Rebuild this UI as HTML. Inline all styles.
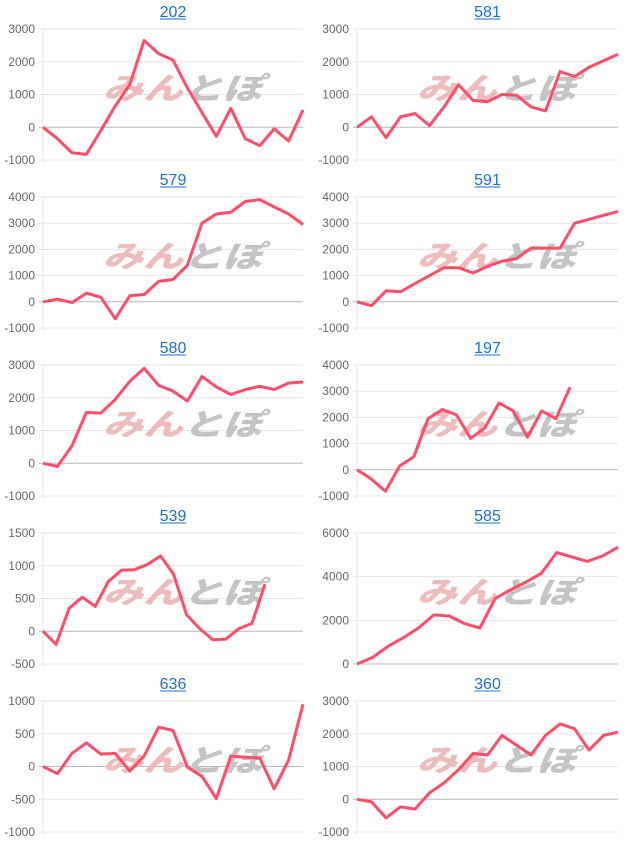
<!DOCTYPE html>
<html><head><meta charset="utf-8">
<style>
body{margin:0;background:#fff;width:630px;height:840px;overflow:hidden;font-family:"Liberation Sans","Noto Sans CJK JP",sans-serif}
</style></head><body>
<svg id="s" width="630" height="840" xmlns="http://www.w3.org/2000/svg"></svg>
<script>
const P=[
{t:"202",c:0,r:0,max:3000,min:-1000,st:1000,end:303,d:[0,-350,-780,-830,-100,650,1300,2650,2250,2050,1200,450,-280,580,-350,-560,-50,-420,530]},
{t:"581",c:1,r:0,max:3000,min:-1000,st:1000,end:618,d:[0,320,-320,320,420,50,620,1300,820,780,1000,980,620,500,1700,1550,1830,2030,2230]},
{t:"579",c:0,r:1,max:4000,min:-1000,st:1000,end:303,d:[0,100,-30,330,170,-650,230,280,780,850,1400,3000,3350,3420,3830,3900,3620,3350,2950]},
{t:"591",c:1,r:1,max:4000,min:-1000,st:1000,end:618,d:[0,-150,420,380,700,1000,1300,1300,1100,1350,1550,1650,2050,2050,2050,3000,3150,3300,3450]},
{t:"580",c:0,r:2,max:3000,min:-1000,st:1000,end:303,d:[0,-100,530,1550,1530,1950,2500,2900,2380,2200,1900,2650,2330,2100,2250,2350,2250,2450,2480]},
{t:"197",c:1,r:2,max:4000,min:-1000,st:1000,end:570,d:[0,-350,-820,150,500,1950,2300,2100,1200,1600,2550,2250,1250,2250,1950,3150]},
{t:"539",c:0,r:3,max:1500,min:-500,st:500,end:265,d:[0,-200,350,520,380,760,930,940,1020,1150,870,250,40,-130,-120,40,120,720]},
{t:"585",c:1,r:3,max:6000,min:0,st:2000,end:618,d:[0,300,800,1200,1650,2250,2200,1850,1650,3000,3400,3750,4150,5100,4900,4700,4950,5350]},
{t:"636",c:0,r:4,max:1000,min:-1000,st:500,end:303,d:[0,-110,200,360,190,200,-70,160,600,550,-10,-150,-490,160,140,130,-340,100,950]},
{t:"360",c:1,r:4,max:3000,min:-1000,st:1000,end:618,d:[0,-80,-570,-230,-300,200,500,900,1400,1350,1950,1650,1350,1950,2300,2150,1500,1950,2050]}
];
let h="";
for(const p of P){
 const x0=p.c?357:43,x1=p.c?618:303,top=29+168*p.r,bot=top+131;
 const Y=v=>top+(p.max-v)/(p.max-p.min)*(bot-top);
 const cx=(x0+x1)/2;
 h+=`<text x="${cx}" y="${top-12}" font-size="16" fill="#1a6fd1" text-anchor="middle">${p.t}</text>`;
 h+=`<line x1="${cx-13}" y1="${top-10}" x2="${cx+13}" y2="${top-10}" stroke="#1a6fd1" stroke-width="1"/>`;
 h+=`<line x1="${x0}" y1="${top}" x2="${x0}" y2="${bot+3}" stroke="#e4e4e4"/>`;
 for(let v=p.max;v>=p.min;v-=p.st){
  const y=Y(v);
  h+=`<line x1="${x0-4}" y1="${y}" x2="${x1}" y2="${y}" stroke="${v==0?'#b8b8b8':'#e4e4e4'}"/>`;
  h+=`<text x="${x0-8}" y="${y+4}" font-size="12" fill="#666" text-anchor="end">${v}</text>`;
 }
 const wx=x0+60,wy=top+70;
 h+=`<text x="${wx}" y="${wy}" font-size="30" font-weight="900" font-style="italic" fill="#eebcbc" textLength="80" lengthAdjust="spacingAndGlyphs" font-family="Noto Sans CJK JP,sans-serif">みん</text>`;
 h+=`<text x="${wx+80}" y="${wy}" font-size="30" font-weight="900" font-style="italic" fill="#c4c4c4" textLength="80" lengthAdjust="spacingAndGlyphs" font-family="Noto Sans CJK JP,sans-serif">とぽ</text>`;
 const n=p.d.length,dx=(p.end-x0)/(n-1);
 h+=`<polyline fill="none" stroke="#ff4d6a" stroke-width="3" stroke-linejoin="round" points="${p.d.map((v,i)=>(x0+i*dx).toFixed(1)+","+Y(v).toFixed(1)).join(" ")}"/>`;
}
document.getElementById("s").innerHTML=h;
</script>
</body></html>
